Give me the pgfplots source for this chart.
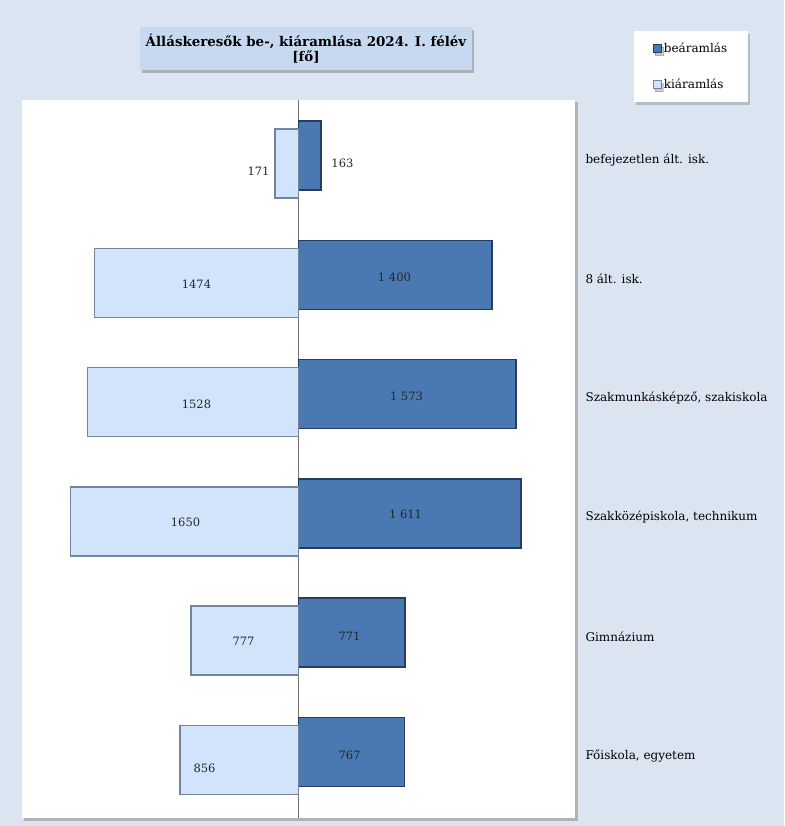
\documentclass[border=0pt]{standalone}
\usepackage{fontspec}
\setmainfont{DejaVu Serif}
\usepackage{pgfplots}
\pgfplotsset{compat=1.18}
\usetikzlibrary{shadows}
\definecolor{bg}{HTML}{DBE5F1}
\definecolor{titlefill}{HTML}{C6D9F1}
\definecolor{darkbar}{HTML}{4A78B2}
\definecolor{darkedge}{HTML}{243E62}
\definecolor{lightbar}{HTML}{D2E4FB}
\definecolor{lightedge}{HTML}{74849C}
\begin{document}
\begin{tikzpicture}[x=1pt,y=1pt]
\fill[bg] (0,0) rectangle (784,826);
\fill[black!30] (24,5) rectangle (578,724);
\fill[white] (22,8) rectangle (575,726);
\node[fill=titlefill, minimum width=332pt, minimum height=43pt, inner sep=2pt,
  drop shadow={shadow xshift=2pt, shadow yshift=-3pt, opacity=0.5},
  align=center, font=\bfseries\fontsize{13.4}{15.5}\selectfont]
  at (306,777.5) {Álláskeresők be-, kiáramlása 2024. I. félév\\{}{[fő]}};
\begin{axis}[
  at={(22pt,8pt)}, anchor=south west,
  width=553pt, height=718pt, scale only axis,
  xmin=-2000, xmax=2000, ymin=-0.52, ymax=5.5,
  axis line style={draw=none},
  xtick={0}, xticklabels={}, xmajorgrids,
  major grid style={black!55, line width=0.6pt},
  major tick length=0pt,
  ytick={0,1,2,3,4,5},
  yticklabels={{Főiskola, egyetem}, Gimnázium, {Szakközépiskola, technikum}, {Szakmunkásképző, szakiskola}, 8 ált. isk., befejezetlen ált. isk.},
  yticklabel pos=right,
  y tick label style={anchor=west, xshift=7pt, font=\fontsize{12}{14}\selectfont},
  legend style={at={(1.21,1.0467)}, anchor=center, fill=white, draw=none,
    drop shadow={shadow xshift=2pt, shadow yshift=-3pt, opacity=0.4},
    inner xsep=19pt, inner ysep=10pt, row sep=21pt,
    font=\fontsize{12}{14}\selectfont, cells={anchor=west}},
  legend image code/.code={\draw[#1, line width=0.8pt] (0pt,-4pt) rectangle (8pt,4pt);},
  legend cell align=left,
]
\addplot[xbar, bar width=69pt, bar shift=4pt, fill=darkbar, draw=darkedge, line width=1.5pt]
  table[x=x, y=y] {
y x
5 163
4 1400
3 1573
2 1611
1 771
0 767
};
\addlegendentry{beáramlás}
\addplot[xbar, bar width=69pt, bar shift=-4pt, fill=lightbar, draw=lightedge, line width=1.5pt]
  table[x=x, y=y] {
y x
5 -171
4 -1474
3 -1528
2 -1650
1 -777
0 -856
};
\addlegendentry{kiáramlás}
\addplot[draw=none, nodes near coords, point meta=explicit symbolic,
  every node near coord/.append style={anchor=center, inner sep=0pt, text=black!85, font=\fontsize{11.5}{13}\selectfont}]
  table[x=x, y=y, meta=l, col sep=comma] {
x,y,l
318,4.966,163
-289,4.899,171
694,4.017,1 400
-738,3.958,1474
781,3.017,1 573
-738,2.950,1528
774,2.025,1 611
-817,1.958,1650
369,1.008,771
-398,0.958,777
369,0.008,767
-680,-0.101,856
};
\end{axis}
\end{tikzpicture}
\end{document}
